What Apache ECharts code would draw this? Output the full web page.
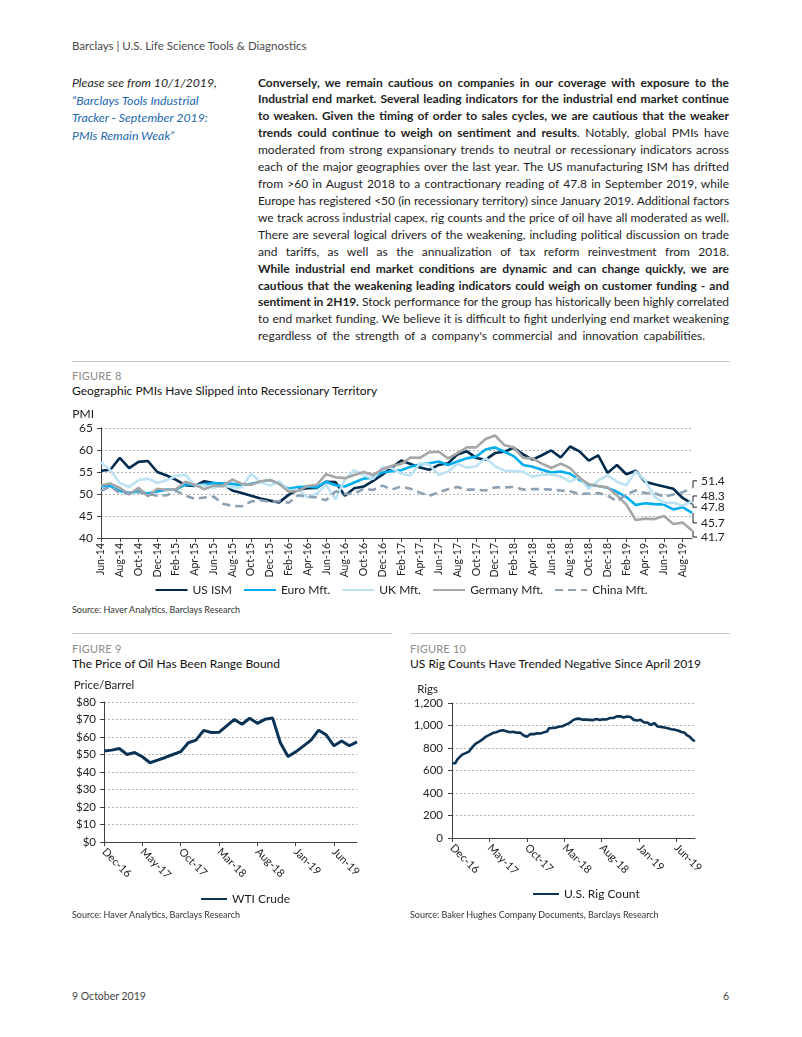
<!DOCTYPE html>
<html><head><meta charset="utf-8">
<script src="https://cdn.jsdelivr.net/npm/echarts@6.0.0/dist/echarts.min.js"></script>
<style>
html,body{margin:0;padding:0}
body{width:802px;height:1037px;position:relative;background:#fff;font-family:Lato,"Open Sans",sans-serif;color:#1e1e1e;overflow:hidden}
.t{position:absolute;white-space:nowrap;line-height:17px}
.hdr{left:72px;top:37px;font-size:11.5px;color:#4a4a4a}
.side{left:72px;top:74px;font-size:12.3px;font-style:italic;line-height:17.7px;color:#1e1e1e}
.lnk{color:#2268b0}
.body{position:absolute;left:258px;top:74.5px;width:471px;font-size:12px;line-height:16.93px;color:#1e1e1e}
.ln{display:block;width:471px;height:16.93px;overflow:visible;white-space:nowrap}
.ln.j{white-space:normal;text-align:justify;text-align-last:justify}
.sep{position:absolute;height:1px;background:#c8c8c8}
.fig{font-size:11px;color:#8c8c8c;letter-spacing:0.2px}
.ttl{font-size:12px;color:#111}
.src{font-size:9px;color:#333}
.foot{font-size:10.5px;color:#444}
.chart{position:absolute}
</style>
</head>
<body>
<div class="t hdr">Barclays | U.S. Life Science Tools &amp; Diagnostics</div>
<div class="t side">Please see from 10/1/2019,<br><span class="lnk">“Barclays Tools Industrial<br>Tracker - September 2019:<br>PMIs Remain Weak”</span></div>
<div class="body" id="bodytext">
<div class="ln"><span><b>Conversely, we remain cautious on companies in our coverage with exposure to the</b></span></div>
<div class="ln"><span><b>Industrial end market. Several leading indicators for the industrial end market continue</b></span></div>
<div class="ln"><span><b>to weaken. Given the timing of order to sales cycles, we are cautious that the weaker</b></span></div>
<div class="ln"><span><b>trends could continue to weigh on sentiment and results</b>. Notably, global PMIs have</span></div>
<div class="ln"><span>moderated from strong expansionary trends to neutral or recessionary indicators across</span></div>
<div class="ln"><span>each of the major geographies over the last year. The US manufacturing ISM has drifted</span></div>
<div class="ln"><span>from &gt;60 in August 2018 to a contractionary reading of 47.8 in September 2019, while</span></div>
<div class="ln"><span>Europe has registered &lt;50 (in recessionary territory) since January 2019. Additional factors</span></div>
<div class="ln"><span>we track across industrial capex, rig counts and the price of oil have all moderated as well.</span></div>
<div class="ln"><span>There are several logical drivers of the weakening, including political discussion on trade</span></div>
<div class="ln"><span>and tariffs, as well as the annualization of tax reform reinvestment from 2018.</span></div>
<div class="ln"><span><b>While industrial end market conditions are dynamic and can change quickly, we are</b></span></div>
<div class="ln"><span><b>cautious that the weakening leading indicators could weigh on customer funding - and</b></span></div>
<div class="ln"><span><b>sentiment in 2H19.</b> Stock performance for the group has historically been highly correlated</span></div>
<div class="ln"><span>to end market funding. We believe it is difficult to fight underlying end market weakening</span></div>
<div class="ln" data-last="1"><span>regardless of the strength of a company's commercial and innovation capabilities.</span></div>
</div>

<div class="sep" style="left:72px;top:361px;width:658px"></div>
<div class="t fig" style="left:72px;top:366.5px">FIGURE 8</div>
<div class="t ttl" style="left:72px;top:381.5px">Geographic PMIs Have Slipped into Recessionary Territory</div>
<div class="chart" id="c8" style="left:0;top:400px;width:802px;height:200px"></div>
<div class="t src" style="left:72px;top:600.5px">Source: Haver Analytics, Barclays Research</div>

<div class="sep" style="left:72px;top:633px;width:320px"></div>
<div class="t fig" style="left:72px;top:639.5px">FIGURE 9</div>
<div class="t ttl" style="left:72px;top:654.5px">The Price of Oil Has Been Range Bound</div>
<div class="chart" id="c9" style="left:0;top:670px;width:400px;height:240px"></div>
<div class="t src" style="left:72px;top:905.5px">Source: Haver Analytics, Barclays Research</div>

<div class="sep" style="left:410px;top:633px;width:320px"></div>
<div class="t fig" style="left:410px;top:639.5px">FIGURE 10</div>
<div class="t ttl" style="left:410px;top:654.5px">US Rig Counts Have Trended Negative Since April 2019</div>
<div class="chart" id="c10" style="left:400px;top:670px;width:402px;height:240px"></div>
<div class="t src" style="left:410px;top:905.5px">Source: Baker Hughes Company Documents, Barclays Research</div>

<div class="t foot" style="left:72px;top:987.5px">9 October 2019</div>
<div class="t foot" style="left:723px;top:987.5px">6</div>

<script>
// ---------- DATA ----------
const MONTHS = ['Jan','Feb','Mar','Apr','May','Jun','Jul','Aug','Sep','Oct','Nov','Dec'];
function monthLabels(y, m, n) {
  const out = [];
  for (let i = 0; i < n; i++) {
    const mm = (m + i) % 12, yy = y + Math.floor((m + i) / 12);
    out.push(MONTHS[mm] + '-' + String(yy % 100).padStart(2, '0'));
  }
  return out;
}
// Figure 8: monthly PMIs, Jun-14 .. Sep-19
const pmiMonths = monthLabels(2014, 5, 64);
const usIsm = [55.3,55.5,58.2,55.9,57.3,57.5,55.0,54.2,53.2,52.0,51.8,52.9,52.5,52.3,50.8,50.2,49.6,49.0,48.5,48.1,49.8,51.0,51.3,51.4,52.8,52.7,49.6,51.3,51.7,53.0,54.4,56.0,57.6,56.8,56.0,55.5,56.6,57.0,59.0,59.7,58.2,57.8,59.3,59.6,60.5,59.0,57.8,58.8,59.9,58.3,60.8,59.7,57.6,58.8,54.8,56.6,54.5,55.3,52.8,52.2,51.7,51.2,49.1,47.8];
const euroMft = [51.8,51.8,50.7,50.3,50.6,50.1,50.6,51.0,51.0,52.2,52.0,52.2,52.5,52.4,52.3,52.0,52.3,52.8,53.2,52.3,51.2,51.6,51.7,51.5,52.8,52.0,51.7,52.6,53.5,53.7,54.9,55.2,55.4,56.2,56.7,57.0,57.4,56.6,57.4,58.1,58.5,60.1,60.6,59.6,58.6,56.6,56.2,55.5,54.9,55.1,54.6,53.2,52.0,51.8,51.4,50.5,49.3,47.5,47.9,47.7,47.6,46.5,47.0,45.7];
const ukMft = [57.2,55.4,52.5,51.6,53.2,53.5,52.5,53.1,54.1,54.4,51.9,52.0,51.4,51.9,51.5,51.5,54.6,52.7,51.9,52.9,50.8,51.0,49.2,50.1,52.1,48.8,53.3,55.4,54.3,53.4,56.1,55.9,54.6,54.2,57.0,56.7,54.3,55.1,56.9,56.0,56.3,58.2,56.3,55.3,55.2,55.1,53.9,54.4,54.4,54.0,52.8,53.8,51.1,53.1,54.2,52.8,52.0,55.1,53.1,49.4,48.0,48.0,47.4,48.3];
const germanyMft = [52.0,52.4,51.4,49.9,51.4,49.5,51.2,50.9,51.1,52.8,52.1,51.1,51.9,51.8,53.3,52.3,52.1,52.9,53.2,52.3,50.5,50.7,51.8,52.1,54.5,53.8,53.6,54.3,55.0,54.3,55.6,56.4,56.8,58.3,58.2,59.5,59.6,58.1,59.3,60.6,60.6,62.5,63.3,61.1,60.6,58.2,58.1,56.9,55.9,56.9,55.9,53.7,52.2,51.8,51.5,49.7,47.6,44.1,44.4,44.3,45.0,43.2,43.5,41.7];
const chinaMft = [50.7,51.7,50.2,50.2,50.4,50.0,49.6,49.7,50.7,49.6,48.9,49.2,49.4,47.8,47.3,47.2,48.3,48.6,48.2,48.4,48.0,49.7,49.4,49.2,48.6,50.6,50.0,50.1,51.2,50.9,51.9,51.0,51.7,51.2,50.3,49.6,50.4,51.1,51.6,51.0,51.0,50.8,51.5,51.5,51.6,51.0,51.1,51.1,51.0,50.8,50.6,50.0,50.1,50.2,49.7,48.3,49.9,50.8,50.2,50.2,49.4,49.9,50.4,51.4];

// Figure 9: WTI crude monthly, Dec-16 .. Sep-19
const wtiMonths = monthLabels(2016, 11, 34);
const wtiCrude = [52.0,52.5,53.4,50.0,51.1,48.7,45.3,46.8,48.3,50.0,51.6,56.7,58.2,63.8,62.6,62.7,66.4,70.0,67.3,70.7,67.8,70.1,70.8,56.7,48.9,51.5,54.8,58.2,63.9,61.1,55.0,57.7,55.0,57.2];

// Figure 10: US rig count, weekly
const rigCount = [665,658,665,694,712,729,741,751,754,756,768,789,809,824,839,847,857,870,877,885,901,908,916,927,933,941,940,952,952,950,958,954,949,946,940,943,944,936,935,940,937,928,913,909,900,915,923,915,923,931,930,931,929,
924,939,936,947,975,975,978,980,981,984,990,995,993,1003,1008,1011,1021,1032,1045,1046,1059,1062,1061,1059,1052,1052,1052,1054,1050,1046,1048,1057,1057,1044,1048,1048,1055,1053,1054,1063,1067,1068,1067,1074,1081,1083,1082,1077,1071,1071,1080,1083,
1075,1078,1050,1049,1045,1054,1051,1047,1027,1034,1026,1016,1006,1012,1022,1012,991,990,988,989,983,984,975,969,967,967,963,958,956,946,942,934,935,916,904,898,886,868,861];
const rigTickLabels = ['Dec-16','May-17','Oct-17','Mar-18','Aug-18','Jan-19','Jun-19'];
const rigWeeks = rigCount.map((v, i) => 'W' + i);

// ---------- TEXT JUSTIFICATION ----------
function justify() {
  document.querySelectorAll('#bodytext .ln').forEach(ln => {
    const sp = ln.querySelector('span');
    ln.classList.remove('j');
    sp.style.letterSpacing = '0px';
    sp.style.wordSpacing = '0px';
    const txt = sp.textContent;
    const spaces = (txt.match(/ /g) || []).length;
    const w = sp.getBoundingClientRect().width;
    if (ln.dataset.last) {
      sp.style.wordSpacing = ((447 - w) / spaces) + 'px';
    } else {
      if (w > 468) sp.style.letterSpacing = ((468 - w) / txt.length) + 'px';
      ln.classList.add('j');
    }
  });
}
justify();
if (document.fonts && document.fonts.ready) document.fonts.ready.then(justify);

// ---------- CHARTS ----------
const FONT = 'Lato';
const AX = '#404040';
const TXT = '#222';
const GRIDLINE = {lineStyle: {color: '#b3b3b3', type: [2, 2], width: 1}};
const LEG_TEXT = {fontSize: 12, color: '#1e1e1e', fontFamily: FONT};

// Figure 8
const c8 = echarts.init(document.getElementById('c8'));
const pmiSeries = [
  {name: 'US ISM', data: usIsm, color: '#002b4e', dash: 'solid'},
  {name: 'Euro Mft.', data: euroMft, color: '#00aeef', dash: 'solid'},
  {name: 'UK Mft.', data: ukMft, color: '#bce2f3', dash: 'solid'},
  {name: 'Germany Mft.', data: germanyMft, color: '#a6a6a6', dash: 'solid'},
  {name: 'China Mft.', data: chinaMft, color: '#8da1b2', dash: [8, 5]}
];
c8.setOption({
  animation: false,
  textStyle: {fontFamily: FONT},
  grid: {left: 101, top: 28, width: 591, height: 110},
  legend: {top: 179, left: 'center', itemWidth: 32, itemHeight: 12, itemGap: 11,
    itemStyle: {opacity: 0}, textStyle: LEG_TEXT, data: pmiSeries.map(s => s.name)},
  xAxis: {type: 'category', data: pmiMonths, boundaryGap: false,
    axisLine: {lineStyle: {color: AX}},
    axisTick: {interval: 1, length: 4, lineStyle: {color: AX}},
    axisLabel: {interval: 1, rotate: 90, fontSize: 10.5, color: TXT, margin: 5}},
  yAxis: {type: 'value', min: 40, max: 65, interval: 5,
    name: 'PMI', nameGap: 8, nameTextStyle: {align: 'right', padding: [0, 7, 0, 0], fontSize: 12, color: TXT},
    axisLine: {show: true, lineStyle: {color: AX}},
    axisTick: {show: true, length: 4, lineStyle: {color: AX}},
    axisLabel: {fontSize: 12, color: TXT, margin: 8},
    splitLine: GRIDLINE},
  series: pmiSeries.map(s => ({
    name: s.name, type: 'line', data: s.data, symbol: 'none',
    lineStyle: {width: 2.6, color: s.color, type: s.dash}, itemStyle: {color: s.color}
  }))
});
// end-value callouts with bracket leaders
const endShift = [3.5, 10, -5.5, 6.5, -7]; // label offsets in px (US, Euro, UK, Germany, China)
const g8 = [];
pmiSeries.forEach((s, i) => {
  const last = s.data.length - 1;
  const p = c8.convertToPixel({xAxisIndex: 0, yAxisIndex: 0}, [last, s.data[last]]);
  const x = p[0], y = p[1], ly = y + endShift[i];
  g8.push({type: 'polyline', silent: true, shape: {points: [[x + 1, y], [x + 1, ly], [x + 5, ly]]},
    style: {stroke: '#1e1e1e', lineWidth: 1, fill: null}});
  g8.push({type: 'text', silent: true, x: x + 9, y: ly,
    style: {text: s.data[last].toFixed(1), fill: '#1e1e1e', font: '12px ' + FONT, verticalAlign: 'middle'}});
});
c8.setOption({graphic: g8});

// Figure 9
const c9 = echarts.init(document.getElementById('c9'));
c9.setOption({
  animation: false, textStyle: {fontFamily: FONT},
  grid: {left: 104, top: 32, width: 253, height: 140},
  legend: {top: 218, left: 195, itemWidth: 26, itemHeight: 12, itemStyle: {opacity: 0}, textStyle: LEG_TEXT, data: ['WTI Crude']},
  xAxis: {type: 'category', data: wtiMonths, boundaryGap: false, axisLine: {lineStyle: {color: AX}},
    axisTick: {interval: 4, length: 4, lineStyle: {color: AX}},
    axisLabel: {interval: 4, rotate: -45, fontSize: 11, color: TXT, margin: 8}},
  yAxis: {type: 'value', min: 0, max: 80, interval: 10,
    name: 'Price/Barrel', nameGap: 11, nameTextStyle: {align: 'center', fontSize: 11.5, color: TXT},
    axisLine: {show: true, lineStyle: {color: AX}}, axisTick: {show: true, length: 4, lineStyle: {color: AX}},
    axisLabel: {fontSize: 11.5, color: TXT, margin: 8, formatter: v => '$' + v}, splitLine: GRIDLINE},
  series: [{name: 'WTI Crude', type: 'line', data: wtiCrude, symbol: 'none', lineStyle: {width: 3, color: '#0b3356'}, itemStyle: {color: '#0b3356'}}]
});

// Figure 10
const c10 = echarts.init(document.getElementById('c10'));
c10.setOption({
  animation: false, textStyle: {fontFamily: FONT},
  grid: {left: 52, top: 33, width: 243, height: 135},
  legend: {top: 213, left: 127, itemWidth: 26, itemHeight: 12, itemStyle: {opacity: 0}, textStyle: LEG_TEXT, data: ['U.S. Rig Count']},
  xAxis: {type: 'category', data: rigWeeks, boundaryGap: false, axisLine: {lineStyle: {color: AX}},
    axisTick: {interval: 21, length: 4, lineStyle: {color: AX}},
    axisLabel: {interval: 21, rotate: -45, fontSize: 11, color: TXT, margin: 8, formatter: (v, i) => rigTickLabels[Math.round(i / 22)] || ''}},
  yAxis: {type: 'value', min: 0, max: 1200, interval: 200,
    name: 'Rigs', nameGap: 8, nameTextStyle: {align: 'right', padding: [0, 14, 0, 0], fontSize: 11.5, color: TXT},
    axisLine: {show: true, lineStyle: {color: AX}}, axisTick: {show: true, length: 4, lineStyle: {color: AX}},
    axisLabel: {fontSize: 11.5, color: TXT, margin: 9, formatter: v => v.toLocaleString('en-US')}, splitLine: GRIDLINE},
  series: [{name: 'U.S. Rig Count', type: 'line', data: rigCount, symbol: 'none', lineStyle: {width: 2.6, color: '#0b3356'}, itemStyle: {color: '#0b3356'}}]
});
</script>
</body></html>
